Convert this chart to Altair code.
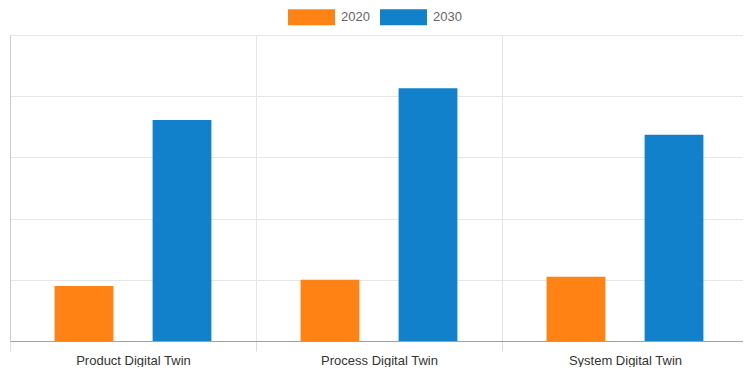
import altair as alt
import pandas as pd

categories = ["Product Digital Twin", "Process Digital Twin", "System Digital Twin"]
years = ["2020", "2030"]
values_2020 = [9.0, 10.0, 10.5]
values_2030 = [36.1, 41.3, 33.7]
colors = ["#ff8214", "#1081ca"]

rows = []
for c, a, b in zip(categories, values_2020, values_2030):
    rows.append({"category": c, "year": "2020", "value": a})
    rows.append({"category": c, "year": "2030", "value": b})
df = pd.DataFrame(rows)

chart = alt.Chart(df).mark_bar().encode(
    x=alt.X("category:N", sort=categories, title=None,
            scale=alt.Scale(paddingInner=0, paddingOuter=0),
            axis=alt.Axis(labelAngle=0, grid=True, tickBand="extent",
                          gridColor="#e6e6e6", domainColor="#a0a0a0",
                          tickColor="#dcdcdc", tickSize=10, labelPadding=3,
                          labelFont="Liberation Sans", labelFontSize=13,
                          labelColor="#333333")),
    xOffset=alt.XOffset("year:N", sort=years,
                        scale=alt.Scale(paddingInner=0.4, paddingOuter=0.455)),
    y=alt.Y("value:Q", title=None,
            scale=alt.Scale(domain=[0, 50]),
            axis=alt.Axis(values=[0, 10, 20, 30, 40, 50], labels=False, ticks=False,
                          gridColor="#e6e6e6", domainColor="#cccccc")),
    color=alt.Color("year:N", sort=years,
                    scale=alt.Scale(domain=years, range=colors),
                    legend=alt.Legend(title=None, orient="none", direction="horizontal",
                                      legendX=278, legendY=-41.5,
                                      symbolType="M-1,-0.34H1V0.34H-1Z",
                                      symbolSize=2209, symbolStrokeWidth=0,
                                      labelOffset=6, columnPadding=10,
                                      labelFont="Liberation Sans", labelFontSize=13,
                                      labelColor="#666666")),
).properties(
    width=738, height=306,
    autosize=alt.AutoSizeParams(type="none"),
    padding={"left": 2, "top": 27, "right": -5, "bottom": 26},
).configure_view(stroke=None)

chart.save("out.html", embed_options={"renderer": "svg", "actions": False})
